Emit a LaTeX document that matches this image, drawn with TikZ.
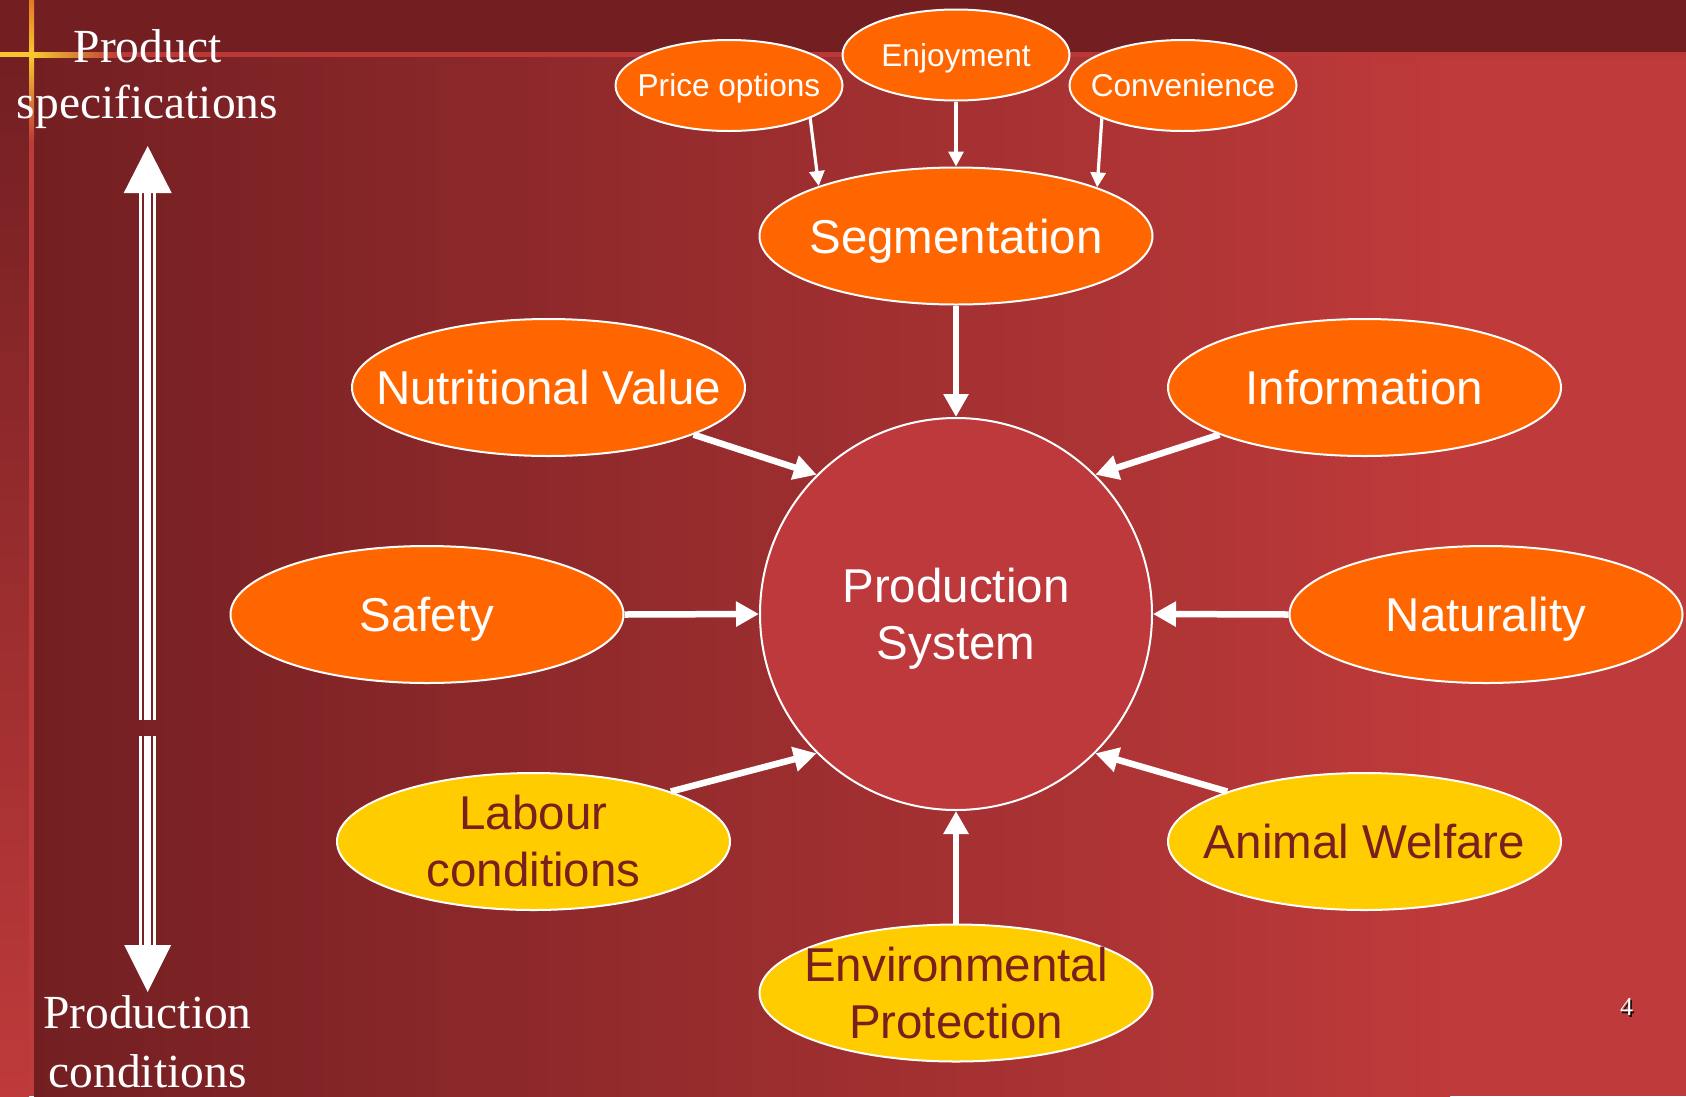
\documentclass[tikz,border=0pt]{standalone}
\usepackage{fontspec}
\setmainfont{Liberation Sans}
\newfontfamily\timesf{Liberation Serif}
\usetikzlibrary{arrows.meta,shapes.geometric}
\definecolor{bgdark}{RGB}{115,31,34}
\definecolor{bglight}{RGB}{191,58,58}
\definecolor{lineRed}{RGB}{187,56,57}
\definecolor{ornF}{RGB}{255,102,0}
\definecolor{yelF}{RGB}{255,204,0}
\definecolor{yelT}{RGB}{122,31,31}
\definecolor{circF}{RGB}{190,57,59}
\definecolor{glow}{RGB}{247,198,47}
\definecolor{glowor}{RGB}{228,120,40}
\begin{document}
\begin{tikzpicture}[x=1pt,y=-1pt,
  bigell/.style={ellipse, draw=white, line width=2pt, minimum width=393pt, minimum height=137pt, inner sep=0pt},
  smallell/.style={ellipse, draw=white, line width=2pt, minimum width=227pt, minimum height=91pt, inner sep=0pt},
  ornell/.style={fill=ornF},
  yelell/.style={fill=yelF},
  bigtxt/.style={font=\fontsize{47.5}{57}\selectfont, align=center, inner sep=0pt},
  oneline/.style={text height=34pt, text depth=0pt},
  smalltxt/.style={font=\fontsize{31.6}{38}\selectfont, inner sep=0pt, text height=22.6pt, text depth=0pt, text=white},
  sidetxt/.style={font=\timesf\fontsize{47.5}{56}\selectfont, text=white, inner sep=0pt, anchor=base},
  thickarr/.style={draw=white, line width=6.5pt, -{Triangle[length=23pt,width=24pt]}},
  thinarr/.style={draw=white, line width=3.2pt, -{Triangle[length=15pt,width=15pt]}},
]
\useasboundingbox (0,0) rectangle (1686,1096);
% background
\fill[bgdark] (0,0) rectangle (1686,1096);
\shade[left color=bgdark, right color=bglight] (34,55) rectangle (1450,1096);
\fill[bglight] (1449,55) rectangle (1686,1096);
\shade[top color=bgdark, bottom color=bglight] (0,55) rectangle (29,1096);
\fill[bgdark] (0,0) rectangle (1686,52);
% frame lines
\fill[lineRed] (0,52) rectangle (1686,57);
\fill[bglight] (29,0) rectangle (34,1096);
\shade[top color=glowor, bottom color=glow] (29,0) rectangle (34,52);
\shade[top color=glow, bottom color=bglight] (29,57) rectangle (34,140);
\fill[glow] (0,52) rectangle (34,57);
\shade[left color=glow, right color=lineRed] (34,52) rectangle (120,57);

% vertical double arrow
\coordinate (upTip) at (147.7,146);
\coordinate (dnTip) at (147.7,992);
\fill[white] (upTip) -- (171.7,193) -- (123.7,193) -- cycle;
\fill[white] (dnTip) -- (171.2,945) -- (124.2,945) -- cycle;
\foreach \xx/\ww in {140.8/3, 147.7/6.5, 154.6/3}{
  \draw[white, line width=\ww pt] (\xx,192) -- (\xx,720);
  \draw[white, line width=\ww pt] (\xx,736) -- (\xx,946);
}

% side labels
\node[sidetxt] (ps1) at (147.5,62) {Product};
\node[sidetxt] (ps2) at (147.5,118) {specifications};
\node[sidetxt] (pc1) at (147.5,1028) {Production};
\node[sidetxt] (pc2) at (147.5,1087) {conditions};

% central circle
\node[circle, draw=white, line width=2pt, fill=circF, minimum size=392pt, inner sep=0pt] (ps) at (956,614) {};
\node[bigtxt, text=white, yshift=-5pt] (ps-t) at (ps.center) {Production\\System};

% ellipses
\node[smallell, ornell] (pri) at (729,85.5) {};
\node[smallell, ornell] (con) at (1183,85.5) {};
\node[smallell, ornell] (enj) at (956,55) {};
\node[bigell, ornell] (seg) at (956,236) {};
\node[bigell, ornell] (nut) at (548.5,387.5) {};
\node[bigell, ornell] (inf) at (1364.5,387.5) {};
\node[bigell, ornell] (saf) at (427,614.5) {};
\node[bigell, ornell] (nat) at (1486,614.5) {};
\node[bigell, yelell] (lab) at (533.5,841.5) {};
\node[bigell, yelell] (ani) at (1364.5,841.5) {};
\node[bigell, yelell] (env) at (956,993) {};

% texts
\node[smalltxt] (pri-t) at (pri.center) {Price options};
\node[smalltxt] (con-t) at (con.center) {Convenience};
\node[smalltxt] (enj-t) at (enj.center) {Enjoyment};
\node[bigtxt, oneline, text=white] (seg-t) at (seg.center) {Segmentation};
\node[bigtxt, oneline, text=white] (nut-t) at (nut.center) {Nutritional Value};
\node[bigtxt, oneline, text=white] (inf-t) at (inf.center) {Information};
\node[bigtxt, oneline, text=white] (saf-t) at (saf.center) {Safety};
\node[bigtxt, oneline, text=white] (nat-t) at (nat.center) {Naturality};
\node[bigtxt, text=yelT] (lab-t) at (lab.center) {Labour\\conditions};
\node[bigtxt, oneline, text=yelT] (ani-t) at (ani.center) {Animal Welfare};
\node[bigtxt, text=yelT] (env-t) at (env.center) {Environmental\\Protection};

% arrows
\draw[thinarr] (pri.-22) -- (seg.160.6);
\draw[thinarr] (enj.south) -- (seg.north);
\draw[thinarr] (con.-158) -- (seg.19.4);
\draw[thickarr] (seg.south) -- (ps.north);
\draw[thickarr] (nut.-18) -- (ps.135);
\draw[thickarr] (inf.198) -- (ps.45);
\draw[thickarr] (saf.east) -- (ps.west);
\draw[thickarr] (nat.west) -- (ps.east);
\draw[thickarr] (lab.20) -- (ps.225);
\draw[thickarr] (ani.160) -- (ps.-45);
\draw[thickarr] (env.north) -- (ps.south);

% page number
\node[font=\timesf\fontsize{26}{30}\selectfont, text=black, anchor=base, inner sep=0pt] (pg-s) at (1628,1017) {4};
\node[font=\timesf\fontsize{26}{30}\selectfont, text=white, anchor=base, inner sep=0pt] (pg) at (1626.5,1015.5) {4};
\end{tikzpicture}
\end{document}
